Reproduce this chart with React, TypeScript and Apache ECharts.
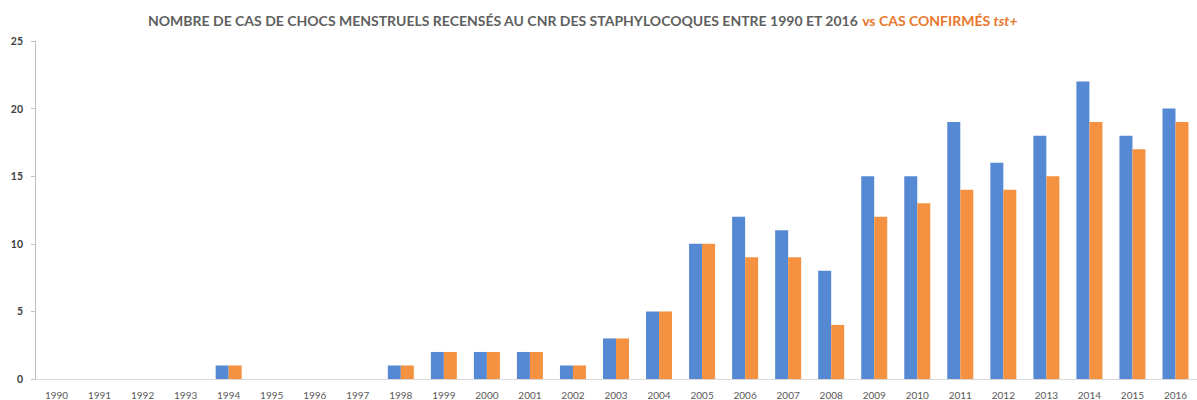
import React, { useEffect, useRef } from "react";
import * as echarts from "echarts";

const years = ["1990","1991","1992","1993","1994","1995","1996","1997","1998","1999","2000","2001","2002","2003","2004","2005","2006","2007","2008","2009","2010","2011","2012","2013","2014","2015","2016"];
const casRecenses = [0,0,0,0,1,0,0,0,1,2,2,2,1,3,5,10,12,11,8,15,15,19,16,18,22,18,20];
const casConfirmes = [0,0,0,0,1,0,0,0,1,2,2,2,1,3,5,10,9,9,4,12,13,14,14,15,19,17,19];
const yTicks = [0, 5, 10, 15, 20, 25];

export default function App() {
  const ref = useRef<HTMLDivElement>(null);
  useEffect(() => {
    document.body.style.margin = "0";
    const chart = echarts.init(ref.current!, null, { renderer: "svg" });
    chart.setOption({
      animation: false,
      backgroundColor: "#ffffff",
      title: {
        left: 143,
        top: 8,
        text: "{g|NOMBRE DE CAS DE CHOCS MENSTRUELS RECENSÉS AU CNR DES STAPHYLOCOQUES ENTRE 1990 ET 2016 }{o|vs CAS CONFIRMÉS }{oi|tst+}",
        textStyle: {
          rich: {
            g: { fontFamily: "Lato", fontWeight: "bold", fontSize: 14, color: "#5f5f5f" },
            o: { fontFamily: "Lato", fontWeight: "bold", fontSize: 14, color: "#e8772e" },
            oi: { fontFamily: "Lato", fontWeight: "bold", fontStyle: "italic", fontSize: 14, color: "#e8772e" },
          },
        },
      },
      grid: { left: 35, top: 41, width: 1172, height: 338, containLabel: false },
      xAxis: {
        type: "category",
        data: years,
        axisLine: { lineStyle: { color: "#d9d9d9", width: 1 } },
        axisTick: { show: false },
        axisLabel: { color: "#595959", fontSize: 10, fontFamily: "Lato", margin: 11, interval: 0 },
      },
      yAxis: {
        type: "value",
        min: yTicks[0],
        max: yTicks[yTicks.length - 1],
        interval: 5,
        splitLine: { show: false },
        axisLine: { show: true, lineStyle: { color: "#bfbfbf", width: 1 } },
        axisTick: { show: true, length: 4, lineStyle: { color: "#bfbfbf" } },
        axisLabel: { color: "#404040", fontSize: 10.5, fontFamily: "Lato", fontWeight: "bold", margin: 12 },
      },
      series: [
        {
          name: "Cas recensés",
          type: "bar",
          data: casRecenses,
          barWidth: 13,
          barGap: "0%",
          itemStyle: { color: "#5689d3" },
        },
        {
          name: "Cas confirmés tst+",
          type: "bar",
          data: casConfirmes,
          barWidth: 13,
          barGap: "0%",
          itemStyle: { color: "#f49241" },
        },
      ],
    });
    return () => chart.dispose();
  }, []);
  return <div ref={ref} style={{ width: 1197, height: 400 }} />;
}
